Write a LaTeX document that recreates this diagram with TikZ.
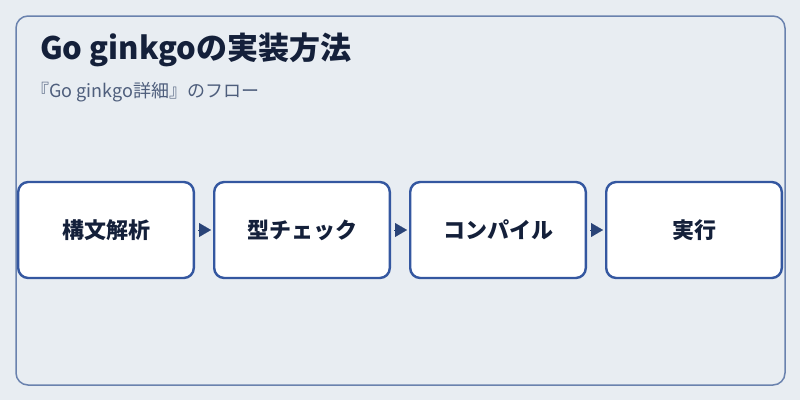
\documentclass[tikz,border=0pt]{standalone}
\usepackage{fontspec}
\setmainfont{Noto Sans CJK JP}
\usetikzlibrary{arrows.meta, positioning}
\definecolor{bgcol}{HTML}{E8EDF2}
\definecolor{framecol}{HTML}{6A82AE}
\definecolor{boxcol}{HTML}{3457A0}
\definecolor{inkcol}{HTML}{14203A}
\definecolor{subcol}{HTML}{4E5E7C}
\definecolor{tipcol}{HTML}{2A4478}

\begin{document}
\begin{tikzpicture}[x=1pt,y=-1pt,>={Triangle[length=12pt,width=14pt]},
  step box/.style={draw=boxcol,fill=white,line width=2.4pt,rounded corners=10pt,
    minimum width=175.6pt,minimum height=96pt,inner sep=0pt,
    font=\fontsize{22}{22}\selectfont\bfseries,text=inkcol},
  flow/.style={->,draw=tipcol,fill=tipcol,line width=0.1pt,shorten <=3pt,shorten >=2pt}]
  \fill[bgcol] (0,0) rectangle (800,400);
  \draw[framecol,fill=bgcol,line width=1.5pt,rounded corners=12pt] (16,16) rectangle (785,385);
  \node[anchor=base west,inner sep=0pt,text=inkcol,font=\fontsize{31}{31}\selectfont\bfseries] (title) at (40,59) {Go ginkgoの実装方法};
  \node[anchor=base west,inner sep=0pt,text=subcol,font=\fontsize{18}{18}\selectfont] (sub) at (31,97) {『Go ginkgo詳細』のフロー};
  \node[step box] (parse) at (106,230) {構文解析};
  \node[step box, right=18pt of parse] (check) {型チェック};
  \node[step box, right=18pt of check] (compile) {コンパイル};
  \node[step box, right=18pt of compile] (run) {実行};
  \path (parse) edge[flow] (check)
        (check) edge[flow] (compile)
        (compile) edge[flow] (run);
\end{tikzpicture}
\end{document}
